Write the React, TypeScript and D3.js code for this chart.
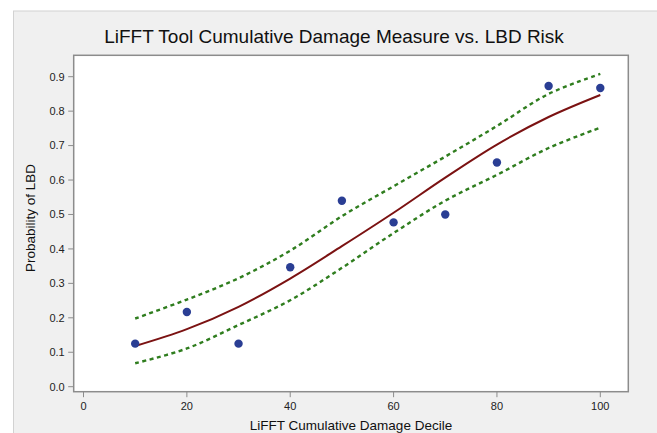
import * as d3 from 'd3'

const deciles = [10, 20, 30, 40, 50, 60, 70, 80, 90, 100]
const observed = [0.125, 0.217, 0.125, 0.347, 0.54, 0.477, 0.5, 0.651, 0.873, 0.867]
const fitted = [0.118, 0.167, 0.232, 0.314, 0.408, 0.505, 0.607, 0.703, 0.783, 0.847]
const upperCI = [0.198, 0.253, 0.315, 0.395, 0.495, 0.582, 0.668, 0.757, 0.85, 0.908]
const lowerCI = [0.068, 0.111, 0.179, 0.251, 0.345, 0.446, 0.54, 0.615, 0.693, 0.752]
const xTicks = [0, 20, 40, 60, 80, 100]
const yTicks = [0, 0.1, 0.2, 0.3, 0.4, 0.5, 0.6, 0.7, 0.8, 0.9]

const W = 657
const H = 433
const box = { left: 73.7, top: 55.3, right: 628.3, bottom: 391.7 }
const font = '"Liberation Sans", Arial, Helvetica, sans-serif'

export default function App() {
  const x = d3.scaleLinear().domain([0, 100]).range([83.5, 600.3])
  const y = d3.scaleLinear().domain([0, 0.9]).range([386.7, 76.7])

  const line = d3
    .line<number>()
    .x((_, i) => x(deciles[i]))
    .y(d => y(d))
    .curve(d3.curveCatmullRom.alpha(0.5))

  return (
    <div style={{ position: 'absolute', left: 0, top: 0 }}>
      <svg width={W} height={H} style={{ display: 'block' }} fontFamily={font}>
        <rect x={0} y={0} width={W} height={H} fill="#fff" />
        <rect x={13.5} y={11} width={W} height={H} fill="#f0f0f0" stroke="#d2d2d2" />

        <text x={334} y={43} textAnchor="middle" fontSize={19} fill="#111">
          LiFFT Tool Cumulative Damage Measure vs. LBD Risk
        </text>

        <rect
          x={box.left}
          y={box.top}
          width={box.right - box.left}
          height={box.bottom - box.top}
          fill="#fff"
          stroke="#8c8c8c"
          strokeWidth={1.5}
        />

        {yTicks.map(t => (
          <g key={'y' + t}>
            <line x1={box.left - 5.5} x2={box.left} y1={y(t)} y2={y(t)} stroke="#8c8c8c" strokeWidth={1} />
            <text x={box.left - 9} y={y(t)} dy="0.35em" textAnchor="end" fontSize={11} fill="#222">
              {t.toFixed(1)}
            </text>
          </g>
        ))}

        {xTicks.map(t => (
          <g key={'x' + t}>
            <line x1={x(t)} x2={x(t)} y1={box.bottom} y2={box.bottom + 5.5} stroke="#8c8c8c" strokeWidth={1} />
            <text x={x(t)} y={box.bottom + 18} textAnchor="middle" fontSize={11} fill="#222">
              {t}
            </text>
          </g>
        ))}

        <text
          transform="translate(35,218) rotate(-90)"
          textAnchor="middle"
          fontSize={13.5}
          fill="#111"
        >
          Probability of LBD
        </text>
        <text x={351} y={430} textAnchor="middle" fontSize={13.5} fill="#111">
          LiFFT Cumulative Damage Decile
        </text>

        <path d={line(upperCI) ?? ''} fill="none" stroke="#2f7d1e" strokeWidth={2.4} strokeDasharray="4,3.5" />
        <path d={line(lowerCI) ?? ''} fill="none" stroke="#2f7d1e" strokeWidth={2.4} strokeDasharray="4,3.5" />
        <path d={line(fitted) ?? ''} fill="none" stroke="#7b1212" strokeWidth={2} />

        {observed.map((v, i) => (
          <circle key={i} cx={x(deciles[i])} cy={y(v)} r={4.2} fill="#2a3e94" />
        ))}
      </svg>
    </div>
  )
}
